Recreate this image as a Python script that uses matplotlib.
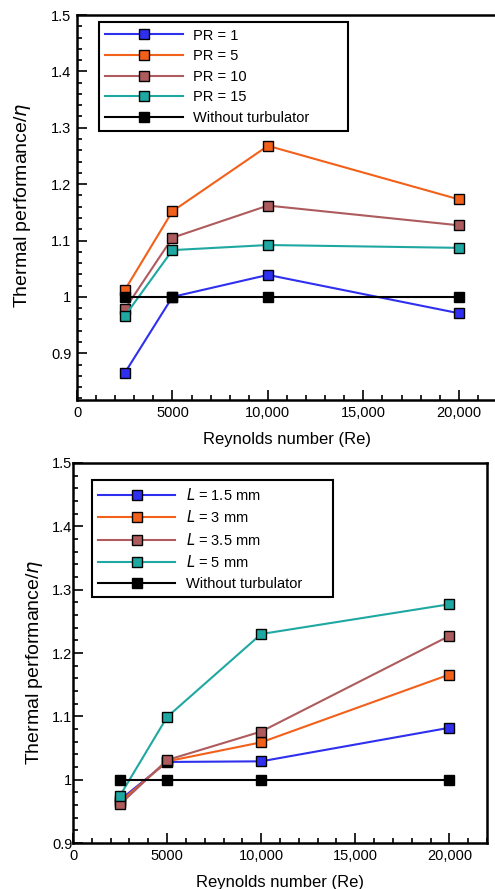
import matplotlib.pyplot as plt
from matplotlib.ticker import MultipleLocator, FuncFormatter

plt.rcParams['font.family'] = ['Liberation Sans', 'DejaVu Sans']

re_values = [2500, 5000, 10000, 20000]

# top panel: pitch ratio
pr_labels = ['PR = 1', 'PR = 5', 'PR = 10', 'PR = 15', 'Without turbulator']
pr_1 = [0.865, 1.0, 1.039, 0.971]
pr_5 = [1.012, 1.152, 1.268, 1.173]
pr_10 = [0.978, 1.105, 1.162, 1.127]
pr_15 = [0.966, 1.083, 1.092, 1.087]
no_turb = [1.0, 1.0, 1.0, 1.0]

# bottom panel: length
len_labels = [r'$L$ = 1.5 mm', r'$L$ = 3 mm', r'$L$ = 3.5 mm', r'$L$ = 5 mm', 'Without turbulator']
len_15 = [0.968, 1.028, 1.029, 1.082]
len_3 = [0.965, 1.029, 1.059, 1.166]
len_35 = [0.961, 1.031, 1.076, 1.227]
len_5 = [0.975, 1.099, 1.230, 1.277]

colours = ['#2f2ff0', '#f2601a', '#ae5b5e', '#1fa8a2', 'black']


def fmt_x(v, pos):
    if v < 10000:
        return '%d' % v
    return '{:,}'.format(int(v))


def fmt_y(v, pos):
    s = '%.1f' % v
    return '1' if s == '1.0' else s


def draw_panel(ax, series, labels, ylo, leg_x, leg_y, ylab_xy, pad_right, ypad):
    for ys, lab, c in zip(series, labels, colours):
        ax.plot(re_values, ys, color=c, lw=1.5, marker='s', ms=7.5,
                mfc=c, mec='black', mew=1.0, label=lab)
    ax.set_xlim(0, 22000)
    ax.set_ylim(ylo, 1.5)
    ax.xaxis.set_major_locator(MultipleLocator(5000))
    ax.xaxis.set_minor_locator(MultipleLocator(1000))
    ax.yaxis.set_major_locator(MultipleLocator(0.1))
    ax.yaxis.set_minor_locator(MultipleLocator(0.02))
    ax.xaxis.set_major_formatter(FuncFormatter(fmt_x))
    ax.yaxis.set_major_formatter(FuncFormatter(fmt_y))
    ax.tick_params(which='both', direction='in', top=False, right=False,
                   labelsize=10.5, width=1.2, pad=4)
    ax.tick_params(axis='y', which='major', pad=ypad)
    ax.tick_params(which='major', length=7)
    ax.tick_params(which='minor', length=3.5)
    for sp in ax.spines.values():
        sp.set_linewidth(1.8)
    ax.set_xlabel('Reynolds number (Re)', fontsize=12, labelpad=9)
    ax.set_ylabel(r'Thermal performance/$\eta$', fontsize=14)
    ax.yaxis.set_label_coords(*ylab_xy)
    leg = ax.legend(loc='upper left', bbox_to_anchor=(leg_x, leg_y), fontsize=10.5,
                    handlelength=5.3, handletextpad=0.7, fancybox=False, framealpha=1,
                    edgecolor='black', borderpad=0.45, labelspacing=0.45,
                    borderaxespad=0)
    leg.get_frame().set_linewidth(1.5)
    # widen the frame to the right like the original
    leg.texts[-1].set_text(labels[-1] + '\u2007' * pad_right)


fig = plt.figure(figsize=(4.95, 8.89), dpi=100)
ax_top = fig.add_axes([0.1556, 0.5500, 0.8485, 0.4331])
ax_bot = fig.add_axes([0.1475, 0.0517, 0.8364, 0.4275])

draw_panel(ax_top, [pr_1, pr_5, pr_10, pr_15, no_turb], pr_labels, 0.817,
           0.052, 0.982, (-0.106, 0.506), 4, 4)
draw_panel(ax_bot, [len_15, len_3, len_35, len_5, no_turb], len_labels, 0.9,
           0.045, 0.955, (-0.068, 0.476), 3, 0.5)

fig.savefig('out.png', dpi=100)
